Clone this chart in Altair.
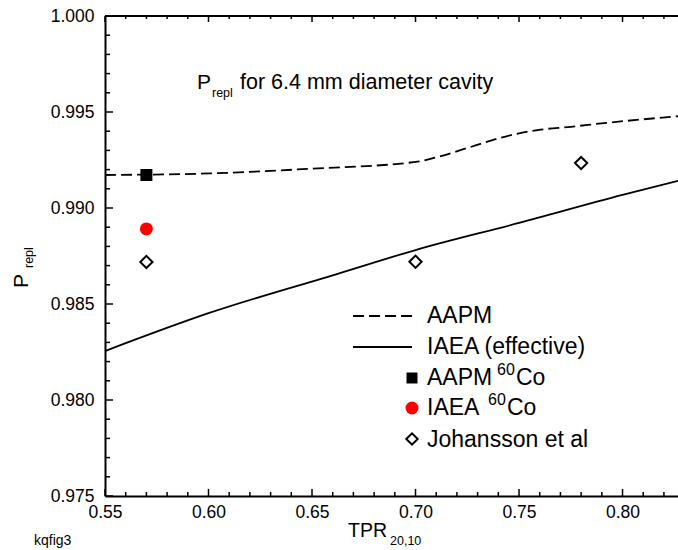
import altair as alt
import pandas as pd

# ---- data -------------------------------------------------------------
# AAPM replacement-correction curve (dashed)
aapm_x = [0.55, 0.60, 0.65, 0.70, 0.711, 0.727, 0.743, 0.759, 0.775, 0.791, 0.8268]
aapm_y = [0.99172, 0.99180, 0.99205, 0.99240, 0.99267, 0.99319, 0.99371, 0.99406, 0.99423, 0.99442, 0.99478]

# IAEA effective curve (solid)
iaea_x = [0.55, 0.60, 0.6635, 0.70, 0.75, 0.80, 0.8268]
iaea_y = [0.98255, 0.98452, 0.98661, 0.98781, 0.98922, 0.99068, 0.99141]

# 60Co reference points and measured values
aapm_co_x = [0.57]
aapm_co_y = [0.99172]
iaea_co_x = [0.57]
iaea_co_y = [0.98891]
joh_x = [0.57, 0.70, 0.78]
joh_y = [0.98719, 0.98720, 0.99234]

# axis ticks
x_major = [0.55, 0.60, 0.65, 0.70, 0.75, 0.80]
x_minor = [0.56, 0.57, 0.58, 0.59, 0.61, 0.62, 0.63, 0.64, 0.66, 0.67, 0.68, 0.69,
           0.71, 0.72, 0.73, 0.74, 0.76, 0.77, 0.78, 0.79, 0.81, 0.82]
y_major = [0.975, 0.980, 0.985, 0.990, 0.995, 1.000]
y_minor = [0.976, 0.977, 0.978, 0.979, 0.981, 0.982, 0.983, 0.984, 0.986, 0.987, 0.988, 0.989,
           0.991, 0.992, 0.993, 0.994, 0.996, 0.997, 0.998, 0.999]

# legend entries
legend_lines = ["AAPM", "IAEA (effective)"]
legend_marks = ["AAPM ", "IAEA ", "Johansson et al"]

FONT = "Liberation Sans"
W, H = 573, 480
X_DOMAIN = [0.55, 0.8268]
Y_DOMAIN = [0.975, 1.000]

xscale = alt.Scale(domain=X_DOMAIN, nice=False, zero=False)
yscale = alt.Scale(domain=Y_DOMAIN, nice=False, zero=False)

x_axis = alt.Axis(values=x_major, format=".2f", title=None, ticks=False, grid=False,
                  labelFlush=False, labelPadding=7, labelFontSize=17.5, labelFont=FONT,
                  labelColor="black", domainColor="black", domainWidth=2)
y_axis = alt.Axis(values=y_major, format=".3f", title=None, ticks=False, grid=False,
                  labelFlush=False, labelPadding=11, labelFontSize=17.5, labelFont=FONT,
                  labelColor="black", domainColor="black", domainWidth=2)


def X(field):
    return alt.X(f"{field}:Q", scale=xscale, axis=x_axis)


def Y(field):
    return alt.Y(f"{field}:Q", scale=yscale, axis=y_axis)


aapm_df = pd.DataFrame({"x": aapm_x, "y": aapm_y})
iaea_df = pd.DataFrame({"x": iaea_x, "y": iaea_y})

aapm_line = alt.Chart(aapm_df).mark_line(
    color="black", strokeWidth=1.8, strokeDash=[11, 5], interpolate="monotone"
).encode(x=X("x"), y=Y("y"))

iaea_line = alt.Chart(iaea_df).mark_line(
    color="black", strokeWidth=1.8, interpolate="monotone"
).encode(x=X("x"), y=Y("y"))

aapm_pt = alt.Chart(pd.DataFrame({"x": aapm_co_x, "y": aapm_co_y})).mark_point(
    shape="square", filled=True, size=144, color="black", opacity=1
).encode(x=X("x"), y=Y("y"))

iaea_pt = alt.Chart(pd.DataFrame({"x": iaea_co_x, "y": iaea_co_y})).mark_point(
    shape="circle", filled=True, size=169, color="#ff0000", opacity=1
).encode(x=X("x"), y=Y("y"))

joh_pt = alt.Chart(pd.DataFrame({"x": joh_x, "y": joh_y})).mark_point(
    shape="diamond", filled=False, size=150, color="black", strokeWidth=2, opacity=1
).encode(x=X("x"), y=Y("y"))

# inward-pointing ticks on bottom, top and left
xmaj = pd.DataFrame({"v": x_major})
xmin = pd.DataFrame({"v": x_minor})
ymaj = pd.DataFrame({"v": y_major})
ymin = pd.DataFrame({"v": y_minor})

tick_style = dict(color="black", strokeWidth=1.5)
ticks = [
    alt.Chart(xmaj).mark_rule(**tick_style).encode(x=X("v"), y=alt.value(H), y2=alt.value(H - 7)),
    alt.Chart(xmin).mark_rule(**tick_style).encode(x=X("v"), y=alt.value(H), y2=alt.value(H - 4)),
    alt.Chart(xmaj).mark_rule(**tick_style).encode(x=X("v"), y=alt.value(0), y2=alt.value(6)),
    alt.Chart(xmin).mark_rule(**tick_style).encode(x=X("v"), y=alt.value(0), y2=alt.value(3)),
    alt.Chart(ymaj).mark_rule(**tick_style).encode(y=Y("v"), x=alt.value(0), x2=alt.value(8)),
    alt.Chart(ymin).mark_rule(**tick_style).encode(y=Y("v"), x=alt.value(0), x2=alt.value(5)),
]

one = pd.DataFrame({"k": [0]})
top_frame = alt.Chart(one).mark_rule(color="black", strokeWidth=2).encode(
    x=alt.value(0), x2=alt.value(W), y=alt.value(0)
)


def label(text, x, y, size, angle=0):
    return alt.Chart(pd.DataFrame({"t": [text]})).mark_text(
        align="left", baseline="alphabetic", font=FONT, fontSize=size, color="black", angle=angle
    ).encode(x=alt.value(x), y=alt.value(y), text="t:N")


texts = [
    # panel annotation
    label("P", 92, 73, 21),
    label("repl", 107, 81, 12.5),
    label("for 6.4 mm diameter cavity", 135, 73, 21.5),
    # axis titles
    label("TPR", 243, 521, 19.5),
    label("20,10", 285, 529, 12.5),
    label("P", -77, 272, 21, angle=270),
    label("repl", -72, 252, 12.5, angle=270),
    label("kqfig3", -71, 529, 14),
    # legend text
    label(legend_lines[0], 322, 307, 23),
    label(legend_lines[1], 322, 338, 23),
    label(legend_marks[0], 322, 369, 23),
    label("60", 392, 359, 16),
    label("Co", 411, 369, 23),
    label(legend_marks[1], 322, 399, 23),
    label("60", 383, 389, 16),
    label("Co", 402, 399, 23),
    label(legend_marks[2], 322, 431, 23),
]

legend_syms = [
    alt.Chart(one).mark_rule(color="black", strokeWidth=1.8, strokeDash=[11, 5]).encode(
        x=alt.value(248), x2=alt.value(307), y=alt.value(300)),
    alt.Chart(one).mark_rule(color="black", strokeWidth=1.8).encode(
        x=alt.value(248), x2=alt.value(307), y=alt.value(331)),
    alt.Chart(one).mark_point(shape="square", filled=True, size=121, color="black", opacity=1).encode(
        x=alt.value(307), y=alt.value(362)),
    alt.Chart(one).mark_point(shape="circle", filled=True, size=169, color="#ff0000", opacity=1).encode(
        x=alt.value(307), y=alt.value(392)),
    alt.Chart(one).mark_point(shape="diamond", filled=False, size=130, color="black", strokeWidth=2, opacity=1).encode(
        x=alt.value(307), y=alt.value(423)),
]

chart = alt.layer(
    aapm_line, iaea_line, aapm_pt, iaea_pt, joh_pt, *ticks, top_frame, *texts, *legend_syms
).properties(
    width=W, height=H,
    autosize=alt.AutoSizeParams(type="none"),
    padding={"left": 105, "top": 16, "right": 0, "bottom": 54},
).configure_view(stroke=None).configure(background="white")

chart.save("out.html", embed_options={"renderer": "svg", "actions": False})
